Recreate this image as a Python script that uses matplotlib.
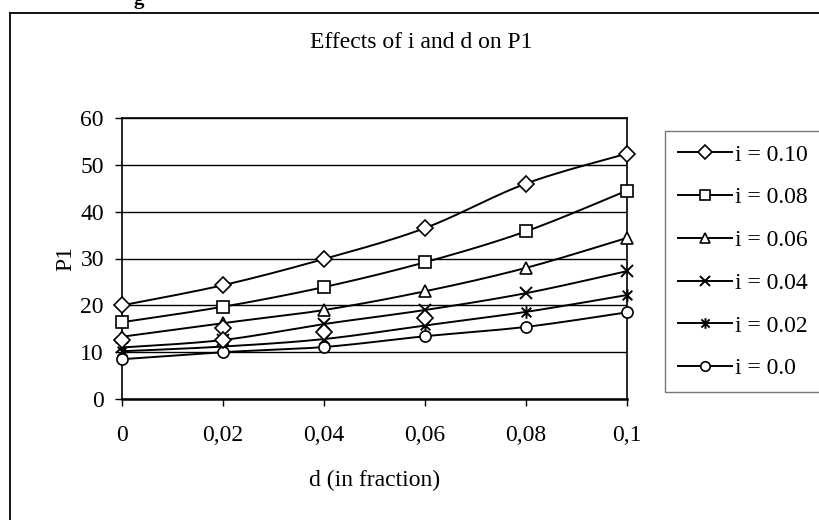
import numpy as np
import matplotlib
matplotlib.use("Agg")
import matplotlib.pyplot as plt
from matplotlib.path import Path
from matplotlib.lines import Line2D

# ---------------- data ----------------
d_values = [0.0, 0.02, 0.04, 0.06, 0.08, 0.10]
d_tick_labels = ["0", "0,02", "0,04", "0,06", "0,08", "0,1"]
y_ticks = [0, 10, 20, 30, 40, 50, 60]

series_labels = ["i = 0.10", "i = 0.08", "i = 0.06", "i = 0.04", "i = 0.02", "i = 0.0"]
p1_i010 = [20.0, 24.3, 29.9, 36.5, 46.0, 52.4]
p1_i008 = [16.4, 19.7, 23.9, 29.2, 35.8, 44.5]
p1_i006 = [13.3, 16.2, 19.0, 23.0, 28.0, 34.4]
p1_i004 = [11.0, 12.6, 16.0, 19.0, 22.6, 27.3]
p1_i002 = [10.2, 11.2, 12.8, 15.7, 18.6, 22.2]
p1_i000 = [8.5, 10.0, 11.1, 13.4, 15.4, 18.5]
series_values = [p1_i010, p1_i008, p1_i006, p1_i004, p1_i002, p1_i000]

# stray diamond markers visible in the original picture
stray_d = [0.0, 0.02, 0.02, 0.04, 0.06]
stray_p1 = [12.6, 15.1, 12.7, 14.4, 17.4]

# ---------------- style ----------------
FONT = "Liberation Serif"
plt.rcParams["font.family"] = [FONT, "DejaVu Serif"]
FS = 17

star_path = Path(
    [(-1, -1), (1, 1), (-1, 1), (1, -1), (0, -1.3), (0, 1.3)],
    [Path.MOVETO, Path.LINETO, Path.MOVETO, Path.LINETO, Path.MOVETO, Path.LINETO],
)
markers = [
    dict(marker="D", markersize=8),
    dict(marker="s", markersize=8),
    dict(marker="^", markersize=9),
    dict(marker="x", markersize=9, markeredgewidth=1.4),
    dict(marker=star_path, markersize=9, markeredgewidth=1.4),
    dict(marker="o", markersize=8),
]


def smooth(xs, ys, n=30):
    """Catmull-Rom style smoothing (like the spreadsheet 'smoothed line')."""
    pts = np.column_stack([xs, ys]).astype(float)
    P = np.vstack([pts[0], pts, pts[-1]])
    out = []
    t = np.linspace(0, 1, n)[:, None]
    for k in range(1, len(P) - 2):
        p0, p1, p2, p3 = P[k - 1], P[k], P[k + 1], P[k + 2]
        c1 = p1 + (p2 - p0) / 6.0
        c2 = p2 - (p3 - p1) / 6.0
        seg = ((1 - t) ** 3) * p1 + 3 * ((1 - t) ** 2) * t * c1 + 3 * (1 - t) * t ** 2 * c2 + t ** 3 * p2
        out.append(seg if k == 1 else seg[1:])
    seg = np.vstack(out)
    return seg[:, 0], seg[:, 1]


fig = plt.figure(figsize=(8.2, 5.2), dpi=100)
W, H = 820.0, 520.0

# outer frame (extends off the right and bottom of the picture)
fig.add_artist(Line2D([10 / W, 1.0], [1 - 13 / H, 1 - 13 / H], color="black", lw=1.3))
fig.add_artist(Line2D([10 / W, 10 / W], [0.0, 1 - 13 / H], color="black", lw=1.3))
fig.text(139 / W, 1 - 4 / H, "g", fontsize=15, fontweight="bold", ha="center", va="baseline")

ax = fig.add_axes([122 / W, 1 - 399 / H, (627 - 122) / W, (399 - 118) / H])

handles = []
for vals, lab, mk in zip(series_values, series_labels, markers):
    sx, sy = smooth(d_values, vals)
    ax.plot(sx, sy, color="black", lw=1.4, zorder=3, clip_on=False)
    ax.plot(d_values, vals, linestyle="none", color="black", markerfacecolor="white",
            markeredgecolor="black", markeredgewidth=mk.get("markeredgewidth", 1.2),
            marker=mk["marker"], markersize=mk["markersize"], zorder=4, clip_on=False)
    handles.append(Line2D([0], [0], color="black", lw=1.4, marker=mk["marker"],
                          markersize=mk["markersize"] * 0.85, markerfacecolor="white",
                          markeredgecolor="black",
                          markeredgewidth=mk.get("markeredgewidth", 1.2)))

ax.plot(stray_d, stray_p1, linestyle="none", marker="D", markersize=8,
        markerfacecolor="white", markeredgecolor="black", markeredgewidth=1.2,
        zorder=4, clip_on=False)

ax.set_xlim(0, 0.1)
ax.set_ylim(0, 60)
ax.set_xticks(d_values)
ax.set_xticklabels(d_tick_labels)
ax.set_yticks(y_ticks)
ax.tick_params(axis="both", labelsize=FS, direction="out", length=5, width=1,
               color="black")
ax.tick_params(axis="x", pad=14)
ax.tick_params(axis="y", pad=8)
ax.yaxis.grid(True, color="black", lw=1.0)
ax.set_axisbelow(True)
for s in ax.spines.values():
    s.set_color("black")
    s.set_linewidth(1.2)
ax.spines["bottom"].set_linewidth(1.8)

ax.set_xlabel("d (in fraction)", fontsize=FS)
ax.xaxis.set_label_coords(0.5, -(480 - 399) / (399 - 118), transform=ax.transAxes)
ax.xaxis.label.set_va("center")
ax.set_ylabel("P1", fontsize=FS)
ax.yaxis.set_label_coords(-(122 - 66) / (627 - 122), 0.5, transform=ax.transAxes)
ax.yaxis.label.set_va("center")
fig.text(421 / W, 1 - 42 / H, "Effects of i and d on P1", fontsize=FS,
         ha="center", va="center")

leg = fig.legend(handles, series_labels, loc="upper left",
                 bbox_to_anchor=(665 / W, 1 - 131 / H), fontsize=FS,
                 frameon=True, fancybox=False, edgecolor="#555555",
                 handlelength=2.3, handletextpad=0.1, labelspacing=0.9,
                 borderpad=0.55, borderaxespad=0.0)
leg.get_frame().set_linewidth(1.0)

fig.savefig("out.png", dpi=100)
